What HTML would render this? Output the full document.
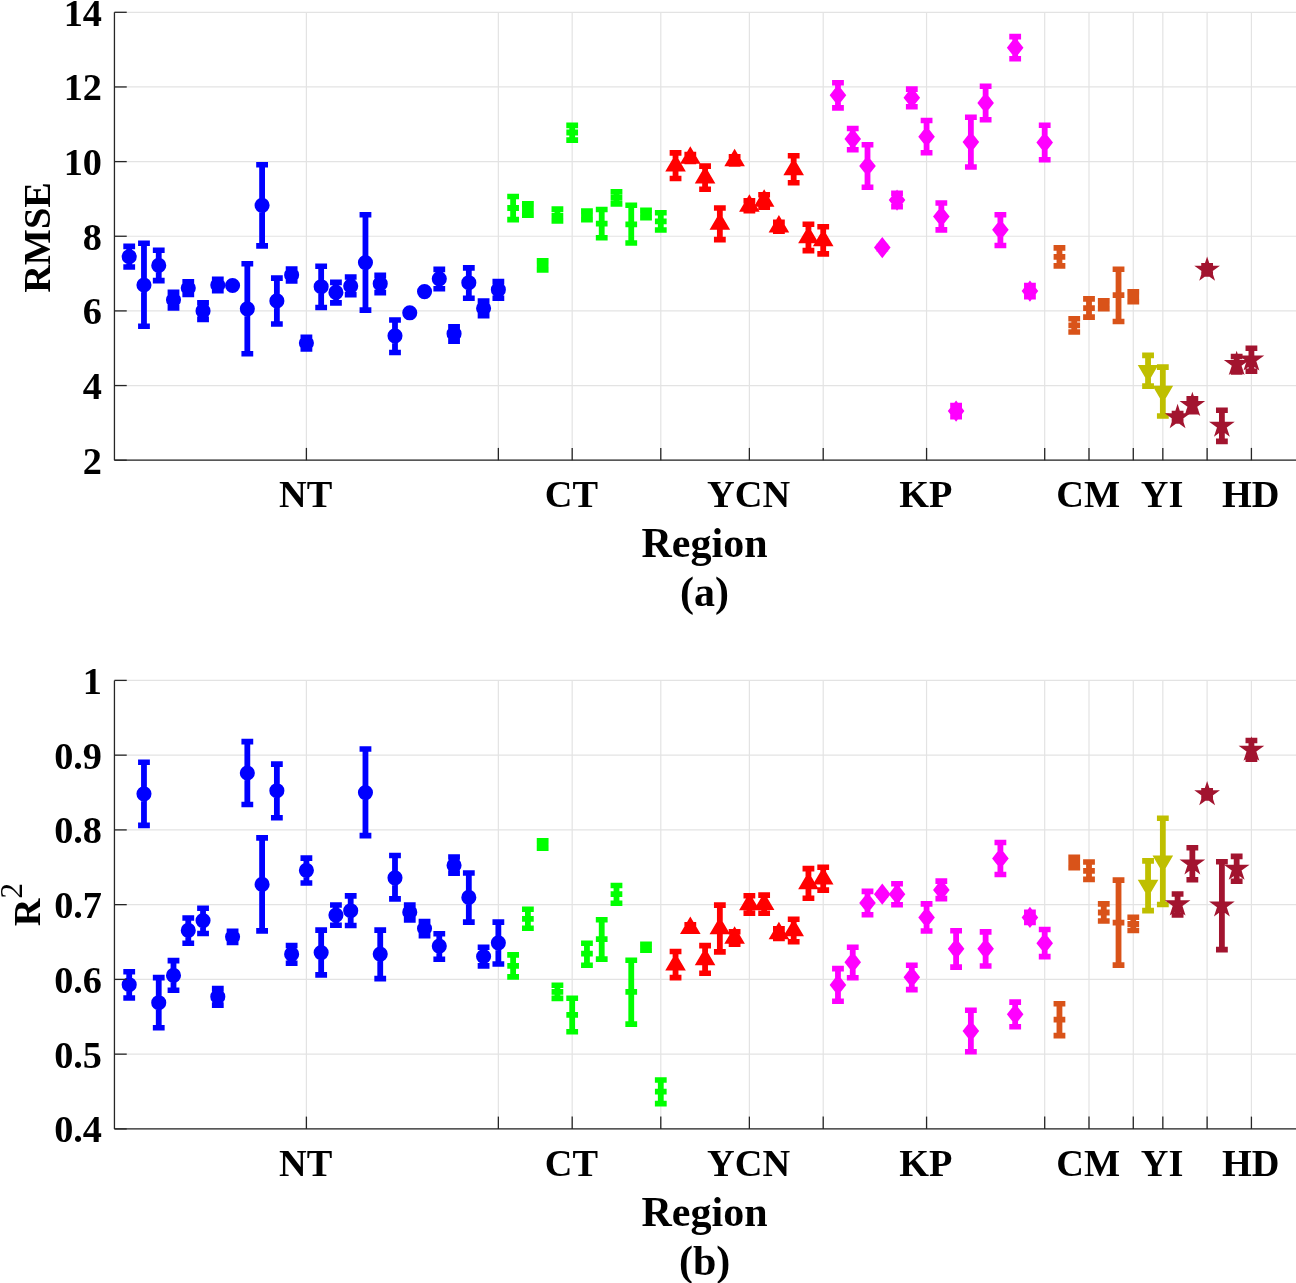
<!DOCTYPE html>
<html><head><meta charset="utf-8"><title>RMSE and R2 by Region</title>
<style>html,body{margin:0;padding:0;background:#fff;overflow:hidden}svg{display:block;will-change:transform}</style>
</head><body>
<svg width="1296" height="1283" viewBox="0 0 1296 1283">
<rect width="1296" height="1283" fill="#fff"/>
<g stroke="#e3e3e3" stroke-width="1.2" fill="none"><line x1="114.44" y1="12.3" x2="1296" y2="12.3"/><line x1="114.44" y1="86.95" x2="1296" y2="86.95"/><line x1="114.44" y1="161.6" x2="1296" y2="161.6"/><line x1="114.44" y1="236.25" x2="1296" y2="236.25"/><line x1="114.44" y1="310.9" x2="1296" y2="310.9"/><line x1="114.44" y1="385.55" x2="1296" y2="385.55"/><line x1="114.44" y1="460.2" x2="1296" y2="460.2"/><line x1="306.4" y1="12.3" x2="306.4" y2="460.2"/><line x1="498.36" y1="12.3" x2="498.36" y2="460.2"/><line x1="572.19" y1="12.3" x2="572.19" y2="460.2"/><line x1="660.78" y1="12.3" x2="660.78" y2="460.2"/><line x1="749.38" y1="12.3" x2="749.38" y2="460.2"/><line x1="823.21" y1="12.3" x2="823.21" y2="460.2"/><line x1="926.57" y1="12.3" x2="926.57" y2="460.2"/><line x1="1044.7" y1="12.3" x2="1044.7" y2="460.2"/><line x1="1089" y1="12.3" x2="1089" y2="460.2"/><line x1="1133.29" y1="12.3" x2="1133.29" y2="460.2"/><line x1="1162.83" y1="12.3" x2="1162.83" y2="460.2"/><line x1="1207.12" y1="12.3" x2="1207.12" y2="460.2"/><line x1="1251.42" y1="12.3" x2="1251.42" y2="460.2"/></g>
<g stroke="#e3e3e3" stroke-width="1.2" fill="none"><line x1="114.44" y1="680.4" x2="1296" y2="680.4"/><line x1="114.44" y1="755.15" x2="1296" y2="755.15"/><line x1="114.44" y1="829.9" x2="1296" y2="829.9"/><line x1="114.44" y1="904.65" x2="1296" y2="904.65"/><line x1="114.44" y1="979.4" x2="1296" y2="979.4"/><line x1="114.44" y1="1054.15" x2="1296" y2="1054.15"/><line x1="114.44" y1="1128.9" x2="1296" y2="1128.9"/><line x1="306.4" y1="680.4" x2="306.4" y2="1128.9"/><line x1="498.36" y1="680.4" x2="498.36" y2="1128.9"/><line x1="572.19" y1="680.4" x2="572.19" y2="1128.9"/><line x1="660.78" y1="680.4" x2="660.78" y2="1128.9"/><line x1="749.38" y1="680.4" x2="749.38" y2="1128.9"/><line x1="823.21" y1="680.4" x2="823.21" y2="1128.9"/><line x1="926.57" y1="680.4" x2="926.57" y2="1128.9"/><line x1="1044.7" y1="680.4" x2="1044.7" y2="1128.9"/><line x1="1089" y1="680.4" x2="1089" y2="1128.9"/><line x1="1133.29" y1="680.4" x2="1133.29" y2="1128.9"/><line x1="1162.83" y1="680.4" x2="1162.83" y2="1128.9"/><line x1="1207.12" y1="680.4" x2="1207.12" y2="1128.9"/><line x1="1251.42" y1="680.4" x2="1251.42" y2="1128.9"/></g>
<g fill="#0000ff"><path d="M126.31 246.4h5.8v20.6h-5.8zM123.31 243.6h11.8v5.6h-11.8zM123.31 264.2h11.8v5.6h-11.8zM121.66 256.7a7.55 7.55 0 1 1 15.1 0a7.55 7.55 0 1 1 -15.1 0z"/><path d="M141.07 243.3h5.8v83h-5.8zM138.07 240.5h11.8v5.6h-11.8zM138.07 323.5h11.8v5.6h-11.8zM136.42 285a7.55 7.55 0 1 1 15.1 0a7.55 7.55 0 1 1 -15.1 0z"/><path d="M155.84 250.3h5.8v30.3h-5.8zM152.84 247.5h11.8v5.6h-11.8zM152.84 277.8h11.8v5.6h-11.8zM151.19 265.4a7.55 7.55 0 1 1 15.1 0a7.55 7.55 0 1 1 -15.1 0z"/><path d="M170.6 292.4h5.8v15.5h-5.8zM167.6 289.6h11.8v5.6h-11.8zM167.6 305.1h11.8v5.6h-11.8zM165.95 299.8a7.55 7.55 0 1 1 15.1 0a7.55 7.55 0 1 1 -15.1 0z"/><path d="M185.37 281.8h5.8v12.7h-5.8zM182.37 279h11.8v5.6h-11.8zM182.37 291.7h11.8v5.6h-11.8zM180.72 288a7.55 7.55 0 1 1 15.1 0a7.55 7.55 0 1 1 -15.1 0z"/><path d="M200.14 302.7h5.8v16.7h-5.8zM197.14 299.9h11.8v5.6h-11.8zM197.14 316.6h11.8v5.6h-11.8zM195.49 310.9a7.55 7.55 0 1 1 15.1 0a7.55 7.55 0 1 1 -15.1 0z"/><path d="M214.9 279.3h5.8v11.5h-5.8zM211.9 276.5h11.8v5.6h-11.8zM211.9 288h11.8v5.6h-11.8zM210.25 285a7.55 7.55 0 1 1 15.1 0a7.55 7.55 0 1 1 -15.1 0z"/><path d="M229.67 284.5h5.8v2h-5.8zM226.67 281.7h11.8v5.6h-11.8zM226.67 283.7h11.8v5.6h-11.8zM225.02 285.5a7.55 7.55 0 1 1 15.1 0a7.55 7.55 0 1 1 -15.1 0z"/><path d="M244.43 263.7h5.8v90.1h-5.8zM241.43 260.9h11.8v5.6h-11.8zM241.43 351h11.8v5.6h-11.8zM239.78 308.8a7.55 7.55 0 1 1 15.1 0a7.55 7.55 0 1 1 -15.1 0z"/><path d="M259.2 164.7h5.8v81.2h-5.8zM256.2 161.9h11.8v5.6h-11.8zM256.2 243.1h11.8v5.6h-11.8zM254.55 205.3a7.55 7.55 0 1 1 15.1 0a7.55 7.55 0 1 1 -15.1 0z"/><path d="M273.97 278.1h5.8v45.9h-5.8zM270.97 275.3h11.8v5.6h-11.8zM270.97 321.2h11.8v5.6h-11.8zM269.32 300.9a7.55 7.55 0 1 1 15.1 0a7.55 7.55 0 1 1 -15.1 0z"/><path d="M288.73 269h5.8v11.9h-5.8zM285.73 266.2h11.8v5.6h-11.8zM285.73 278.1h11.8v5.6h-11.8zM284.08 274.9a7.55 7.55 0 1 1 15.1 0a7.55 7.55 0 1 1 -15.1 0z"/><path d="M303.5 337.4h5.8v11.5h-5.8zM300.5 334.6h11.8v5.6h-11.8zM300.5 346.1h11.8v5.6h-11.8zM298.85 343.1a7.55 7.55 0 1 1 15.1 0a7.55 7.55 0 1 1 -15.1 0z"/><path d="M318.26 266.2h5.8v41.3h-5.8zM315.26 263.4h11.8v5.6h-11.8zM315.26 304.7h11.8v5.6h-11.8zM313.61 286.7a7.55 7.55 0 1 1 15.1 0a7.55 7.55 0 1 1 -15.1 0z"/><path d="M333.03 282.4h5.8v20.5h-5.8zM330.03 279.6h11.8v5.6h-11.8zM330.03 300.1h11.8v5.6h-11.8zM328.38 292.4a7.55 7.55 0 1 1 15.1 0a7.55 7.55 0 1 1 -15.1 0z"/><path d="M347.8 277h5.8v17.8h-5.8zM344.8 274.2h11.8v5.6h-11.8zM344.8 292h11.8v5.6h-11.8zM343.15 286.1a7.55 7.55 0 1 1 15.1 0a7.55 7.55 0 1 1 -15.1 0z"/><path d="M362.56 214.8h5.8v95.3h-5.8zM359.56 212h11.8v5.6h-11.8zM359.56 307.3h11.8v5.6h-11.8zM357.91 262.6a7.55 7.55 0 1 1 15.1 0a7.55 7.55 0 1 1 -15.1 0z"/><path d="M377.33 275.4h5.8v17.2h-5.8zM374.33 272.6h11.8v5.6h-11.8zM374.33 289.8h11.8v5.6h-11.8zM372.68 283.7a7.55 7.55 0 1 1 15.1 0a7.55 7.55 0 1 1 -15.1 0z"/><path d="M392.09 320h5.8v32.5h-5.8zM389.09 317.2h11.8v5.6h-11.8zM389.09 349.7h11.8v5.6h-11.8zM387.44 335.8a7.55 7.55 0 1 1 15.1 0a7.55 7.55 0 1 1 -15.1 0z"/><path d="M406.86 311.8h5.8v2h-5.8zM403.86 309h11.8v5.6h-11.8zM403.86 311h11.8v5.6h-11.8zM402.21 312.8a7.55 7.55 0 1 1 15.1 0a7.55 7.55 0 1 1 -15.1 0z"/><path d="M421.63 290.6h5.8v2h-5.8zM418.63 287.8h11.8v5.6h-11.8zM418.63 289.8h11.8v5.6h-11.8zM416.98 291.6a7.55 7.55 0 1 1 15.1 0a7.55 7.55 0 1 1 -15.1 0z"/><path d="M436.39 269.4h5.8v19.4h-5.8zM433.39 266.6h11.8v5.6h-11.8zM433.39 286h11.8v5.6h-11.8zM431.74 278.8a7.55 7.55 0 1 1 15.1 0a7.55 7.55 0 1 1 -15.1 0z"/><path d="M451.16 326.9h5.8v14.3h-5.8zM448.16 324.1h11.8v5.6h-11.8zM448.16 338.4h11.8v5.6h-11.8zM446.51 333.7a7.55 7.55 0 1 1 15.1 0a7.55 7.55 0 1 1 -15.1 0z"/><path d="M465.92 267.9h5.8v30.3h-5.8zM462.92 265.1h11.8v5.6h-11.8zM462.92 295.4h11.8v5.6h-11.8zM461.27 282.7a7.55 7.55 0 1 1 15.1 0a7.55 7.55 0 1 1 -15.1 0z"/><path d="M480.69 301h5.8v14.6h-5.8zM477.69 298.2h11.8v5.6h-11.8zM477.69 312.8h11.8v5.6h-11.8zM476.04 308.3a7.55 7.55 0 1 1 15.1 0a7.55 7.55 0 1 1 -15.1 0z"/><path d="M495.46 281.6h5.8v16.6h-5.8zM492.46 278.8h11.8v5.6h-11.8zM492.46 295.4h11.8v5.6h-11.8zM490.81 289.7a7.55 7.55 0 1 1 15.1 0a7.55 7.55 0 1 1 -15.1 0z"/></g>
<g fill="#00ff00"><path d="M510.22 196.55h5.8v23.05h-5.8zM507.22 193.75h11.8v5.6h-11.8zM507.22 216.8h11.8v5.6h-11.8zM507.27 205.1h11.7v5.8h-11.7z"/><path d="M524.99 203.9h5.8v11.2h-5.8zM521.99 201.1h11.8v5.6h-11.8zM521.99 212.3h11.8v5.6h-11.8zM522.04 206.6h11.7v5.8h-11.7z"/><path d="M539.75 260.9h5.8v9h-5.8zM536.75 258.1h11.8v5.6h-11.8zM536.75 267.1h11.8v5.6h-11.8zM536.8 262.5h11.7v5.8h-11.7z"/><path d="M554.52 209.1h5.8v11.8h-5.8zM551.52 206.3h11.8v5.6h-11.8zM551.52 218.1h11.8v5.6h-11.8zM551.57 212.7h11.7v5.8h-11.7z"/><path d="M569.29 125.4h5.8v14.7h-5.8zM566.29 122.6h11.8v5.6h-11.8zM566.29 137.3h11.8v5.6h-11.8zM566.34 129.6h11.7v5.8h-11.7z"/><path d="M584.05 211.1h5.8v8.7h-5.8zM581.05 208.3h11.8v5.6h-11.8zM581.05 217h11.8v5.6h-11.8zM581.1 212.6h11.7v5.8h-11.7z"/><path d="M598.82 209.5h5.8v28.2h-5.8zM595.82 206.7h11.8v5.6h-11.8zM595.82 234.9h11.8v5.6h-11.8zM595.87 220.7h11.7v5.8h-11.7z"/><path d="M613.58 191.9h5.8v12h-5.8zM610.58 189.1h11.8v5.6h-11.8zM610.58 201.1h11.8v5.6h-11.8zM610.63 195h11.7v5.8h-11.7z"/><path d="M628.35 205.2h5.8v37.8h-5.8zM625.35 202.4h11.8v5.6h-11.8zM625.35 240.2h11.8v5.6h-11.8zM625.4 221.4h11.7v5.8h-11.7z"/><path d="M643.12 210.2h5.8v7.6h-5.8zM640.12 207.4h11.8v5.6h-11.8zM640.12 215h11.8v5.6h-11.8zM640.17 211.1h11.7v5.8h-11.7z"/><path d="M657.88 212.8h5.8v17.2h-5.8zM654.88 210h11.8v5.6h-11.8zM654.88 227.2h11.8v5.6h-11.8zM654.93 218.4h11.7v5.8h-11.7z"/></g>
<g fill="#ff0000"><path d="M672.65 152.9h5.8v25.6h-5.8zM669.65 150.1h11.8v5.6h-11.8zM669.65 175.7h11.8v5.6h-11.8zM675.55 154.03L685.85 171.53L665.25 171.53z"/><path d="M687.41 154.5h5.8v7h-5.8zM684.41 151.7h11.8v5.6h-11.8zM684.41 158.7h11.8v5.6h-11.8zM690.31 146.33L700.61 163.83L680.01 163.83z"/><path d="M702.18 166.1h5.8v23.1h-5.8zM699.18 163.3h11.8v5.6h-11.8zM699.18 186.4h11.8v5.6h-11.8zM705.08 165.93L715.38 183.43L694.78 183.43z"/><path d="M716.95 208h5.8v31.6h-5.8zM713.95 205.2h11.8v5.6h-11.8zM713.95 236.8h11.8v5.6h-11.8zM719.85 212.13L730.15 229.63L709.55 229.63z"/><path d="M731.71 156.8h5.8v7.2h-5.8zM728.71 154h11.8v5.6h-11.8zM728.71 161.2h11.8v5.6h-11.8zM734.61 148.73L744.91 166.23L724.31 166.23z"/><path d="M746.48 200.8h5.8v10h-5.8zM743.48 198h11.8v5.6h-11.8zM743.48 208h11.8v5.6h-11.8zM749.38 194.13L759.68 211.63L739.08 211.63z"/><path d="M761.24 194.7h5.8v12.5h-5.8zM758.24 191.9h11.8v5.6h-11.8zM758.24 204.4h11.8v5.6h-11.8zM764.14 189.28L774.44 206.78L753.84 206.78z"/><path d="M776.01 222.2h5.8v9h-5.8zM773.01 219.4h11.8v5.6h-11.8zM773.01 228.4h11.8v5.6h-11.8zM778.91 215.03L789.21 232.53L768.61 232.53z"/><path d="M790.78 155.7h5.8v27.1h-5.8zM787.78 152.9h11.8v5.6h-11.8zM787.78 180h11.8v5.6h-11.8zM793.68 157.63L803.98 175.13L783.38 175.13z"/><path d="M805.54 224.3h5.8v26.3h-5.8zM802.54 221.5h11.8v5.6h-11.8zM802.54 247.8h11.8v5.6h-11.8zM808.44 225.73L818.74 243.23L798.14 243.23z"/><path d="M820.31 226.7h5.8v27.2h-5.8zM817.31 223.9h11.8v5.6h-11.8zM817.31 251.1h11.8v5.6h-11.8zM823.21 228.63L833.51 246.13L812.91 246.13z"/></g>
<g fill="#ff00ff"><path d="M835.07 82.7h5.8v25.2h-5.8zM832.07 79.9h11.8v5.6h-11.8zM832.07 105.1h11.8v5.6h-11.8zM837.97 84.6L846.27 95.2L837.97 105.8L829.67 95.2z"/><path d="M849.84 128.5h5.8v21.2h-5.8zM846.84 125.7h11.8v5.6h-11.8zM846.84 146.9h11.8v5.6h-11.8zM852.74 128.3L861.04 138.9L852.74 149.5L844.44 138.9z"/><path d="M864.61 144.7h5.8v42.5h-5.8zM861.61 141.9h11.8v5.6h-11.8zM861.61 184.4h11.8v5.6h-11.8zM867.51 155.4L875.81 166L867.51 176.6L859.21 166z"/><path d="M879.37 246.6h5.8v2h-5.8zM876.37 243.8h11.8v5.6h-11.8zM876.37 245.8h11.8v5.6h-11.8zM882.27 237L890.57 247.6L882.27 258.2L873.97 247.6z"/><path d="M894.14 193.3h5.8v13.4h-5.8zM891.14 190.5h11.8v5.6h-11.8zM891.14 203.9h11.8v5.6h-11.8zM897.04 189.5L905.34 200.1L897.04 210.7L888.74 200.1z"/><path d="M908.9 89.1h5.8v17.6h-5.8zM905.9 86.3h11.8v5.6h-11.8zM905.9 103.9h11.8v5.6h-11.8zM911.8 87.1L920.1 97.7L911.8 108.3L903.5 97.7z"/><path d="M923.67 120.5h5.8v32.3h-5.8zM920.67 117.7h11.8v5.6h-11.8zM920.67 150h11.8v5.6h-11.8zM926.57 126.1L934.87 136.7L926.57 147.3L918.27 136.7z"/><path d="M938.44 203h5.8v26.9h-5.8zM935.44 200.2h11.8v5.6h-11.8zM935.44 227.1h11.8v5.6h-11.8zM941.34 205.9L949.64 216.5L941.34 227.1L933.04 216.5z"/><path d="M953.2 405.6h5.8v11h-5.8zM950.2 402.8h11.8v5.6h-11.8zM950.2 413.8h11.8v5.6h-11.8zM956.1 400.5L964.4 411.1L956.1 421.7L947.8 411.1z"/><path d="M967.97 117.3h5.8v49.7h-5.8zM964.97 114.5h11.8v5.6h-11.8zM964.97 164.2h11.8v5.6h-11.8zM970.87 131.5L979.17 142.1L970.87 152.7L962.57 142.1z"/><path d="M982.73 86.3h5.8v33.4h-5.8zM979.73 83.5h11.8v5.6h-11.8zM979.73 116.9h11.8v5.6h-11.8zM985.63 92.3L993.93 102.9L985.63 113.5L977.33 102.9z"/><path d="M997.5 214.8h5.8v30.7h-5.8zM994.5 212h11.8v5.6h-11.8zM994.5 242.7h11.8v5.6h-11.8zM1000.4 219.2L1008.7 229.8L1000.4 240.4L992.1 229.8z"/><path d="M1012.27 36.6h5.8v22.2h-5.8zM1009.27 33.8h11.8v5.6h-11.8zM1009.27 56h11.8v5.6h-11.8zM1015.17 37.1L1023.47 47.7L1015.17 58.3L1006.87 47.7z"/><path d="M1027.03 285.6h5.8v11h-5.8zM1024.03 282.8h11.8v5.6h-11.8zM1024.03 293.8h11.8v5.6h-11.8zM1029.93 280.5L1038.23 291.1L1029.93 301.7L1021.63 291.1z"/><path d="M1041.8 125.3h5.8v34.5h-5.8zM1038.8 122.5h11.8v5.6h-11.8zM1038.8 157h11.8v5.6h-11.8zM1044.7 132L1053 142.6L1044.7 153.2L1036.4 142.6z"/></g>
<g fill="#d95319"><path d="M1056.56 247.9h5.8v18h-5.8zM1053.56 245.1h11.8v5.6h-11.8zM1053.56 263.1h11.8v5.6h-11.8zM1053.61 253.9h11.7v5.8h-11.7z"/><path d="M1071.33 318.8h5.8v13.2h-5.8zM1068.33 316h11.8v5.6h-11.8zM1068.33 329.2h11.8v5.6h-11.8zM1068.38 322.5h11.7v5.8h-11.7z"/><path d="M1086.1 298.9h5.8v18.2h-5.8zM1083.1 296.1h11.8v5.6h-11.8zM1083.1 314.3h11.8v5.6h-11.8zM1083.15 305.15h11.7v5.8h-11.7z"/><path d="M1100.86 300.8h5.8v8h-5.8zM1097.86 298h11.8v5.6h-11.8zM1097.86 306h11.8v5.6h-11.8zM1097.91 301.9h11.7v5.8h-11.7z"/><path d="M1115.63 269.3h5.8v52.2h-5.8zM1112.63 266.5h11.8v5.6h-11.8zM1112.63 318.7h11.8v5.6h-11.8zM1112.68 292.3h11.7v5.8h-11.7z"/><path d="M1130.39 291.7h5.8v10h-5.8zM1127.39 288.9h11.8v5.6h-11.8zM1127.39 298.9h11.8v5.6h-11.8zM1127.44 293.8h11.7v5.8h-11.7z"/></g>
<g fill="#bfbf00"><path d="M1145.16 355.4h5.8v30.7h-5.8zM1142.16 352.6h11.8v5.6h-11.8zM1142.16 383.3h11.8v5.6h-11.8zM1148.06 382.47L1137.76 364.97L1158.36 364.97z"/><path d="M1159.93 367.1h5.8v48.9h-5.8zM1156.93 364.3h11.8v5.6h-11.8zM1156.93 413.2h11.8v5.6h-11.8zM1162.83 403.27L1152.53 385.77L1173.13 385.77z"/></g>
<g fill="#a2142f"><path d="M1174.69 413.6h5.8v7.4h-5.8zM1171.69 410.8h11.8v5.6h-11.8zM1171.69 418.2h11.8v5.6h-11.8zM1177.59 403.8L1180.62 413.13L1190.43 413.13L1182.5 418.89L1185.53 428.22L1177.59 422.46L1169.66 428.22L1172.69 418.89L1164.75 413.13L1174.56 413.13z"/><path d="M1189.46 398.8h5.8v13h-5.8zM1186.46 396h11.8v5.6h-11.8zM1186.46 409h11.8v5.6h-11.8zM1192.36 391.7L1195.39 401.03L1205.2 401.03L1197.26 406.79L1200.29 416.12L1192.36 410.36L1184.42 416.12L1187.45 406.79L1179.52 401.03L1189.33 401.03z"/><path d="M1204.22 265.8h5.8v8.2h-5.8zM1201.22 263h11.8v5.6h-11.8zM1201.22 271.2h11.8v5.6h-11.8zM1207.12 256.4L1210.16 265.73L1219.96 265.73L1212.03 271.49L1215.06 280.82L1207.12 275.06L1199.19 280.82L1202.22 271.49L1194.28 265.73L1204.09 265.73z"/><path d="M1218.99 410.2h5.8v31.2h-5.8zM1215.99 407.4h11.8v5.6h-11.8zM1215.99 438.6h11.8v5.6h-11.8zM1221.89 412.3L1224.92 421.63L1234.73 421.63L1226.79 427.39L1229.83 436.72L1221.89 430.96L1213.95 436.72L1216.99 427.39L1209.05 421.63L1218.86 421.63z"/><path d="M1233.76 356.5h5.8v15.4h-5.8zM1230.76 353.7h11.8v5.6h-11.8zM1230.76 369.1h11.8v5.6h-11.8zM1236.66 350.7L1239.69 360.03L1249.5 360.03L1241.56 365.79L1244.59 375.12L1236.66 369.36L1228.72 375.12L1231.75 365.79L1223.82 360.03L1233.62 360.03z"/><path d="M1248.52 348.2h5.8v23.1h-5.8zM1245.52 345.4h11.8v5.6h-11.8zM1245.52 368.5h11.8v5.6h-11.8zM1251.42 346.2L1254.45 355.53L1264.26 355.53L1256.33 361.29L1259.36 370.62L1251.42 364.86L1243.49 370.62L1246.52 361.29L1238.58 355.53L1248.39 355.53z"/></g>
<g fill="#0000ff"><path d="M126.31 971.7h5.8v26.3h-5.8zM123.31 968.9h11.8v5.6h-11.8zM123.31 995.2h11.8v5.6h-11.8zM121.66 984.7a7.55 7.55 0 1 1 15.1 0a7.55 7.55 0 1 1 -15.1 0z"/><path d="M141.07 762.3h5.8v63.1h-5.8zM138.07 759.5h11.8v5.6h-11.8zM138.07 822.6h11.8v5.6h-11.8zM136.42 793.8a7.55 7.55 0 1 1 15.1 0a7.55 7.55 0 1 1 -15.1 0z"/><path d="M155.84 977.6h5.8v50.1h-5.8zM152.84 974.8h11.8v5.6h-11.8zM152.84 1024.9h11.8v5.6h-11.8zM151.19 1002.7a7.55 7.55 0 1 1 15.1 0a7.55 7.55 0 1 1 -15.1 0z"/><path d="M170.6 960.6h5.8v29.7h-5.8zM167.6 957.8h11.8v5.6h-11.8zM167.6 987.5h11.8v5.6h-11.8zM165.95 975.4a7.55 7.55 0 1 1 15.1 0a7.55 7.55 0 1 1 -15.1 0z"/><path d="M185.37 918h5.8v25.3h-5.8zM182.37 915.2h11.8v5.6h-11.8zM182.37 940.5h11.8v5.6h-11.8zM180.72 930.4a7.55 7.55 0 1 1 15.1 0a7.55 7.55 0 1 1 -15.1 0z"/><path d="M200.14 908.2h5.8v25.3h-5.8zM197.14 905.4h11.8v5.6h-11.8zM197.14 930.7h11.8v5.6h-11.8zM195.49 920.6a7.55 7.55 0 1 1 15.1 0a7.55 7.55 0 1 1 -15.1 0z"/><path d="M214.9 988.6h5.8v16.5h-5.8zM211.9 985.8h11.8v5.6h-11.8zM211.9 1002.3h11.8v5.6h-11.8zM210.25 996.7a7.55 7.55 0 1 1 15.1 0a7.55 7.55 0 1 1 -15.1 0z"/><path d="M229.67 931.3h5.8v11.1h-5.8zM226.67 928.5h11.8v5.6h-11.8zM226.67 939.6h11.8v5.6h-11.8zM225.02 936.8a7.55 7.55 0 1 1 15.1 0a7.55 7.55 0 1 1 -15.1 0z"/><path d="M244.43 741.6h5.8v62.9h-5.8zM241.43 738.8h11.8v5.6h-11.8zM241.43 801.7h11.8v5.6h-11.8zM239.78 773a7.55 7.55 0 1 1 15.1 0a7.55 7.55 0 1 1 -15.1 0z"/><path d="M259.2 837.9h5.8v93h-5.8zM256.2 835.1h11.8v5.6h-11.8zM256.2 928.1h11.8v5.6h-11.8zM254.55 884.4a7.55 7.55 0 1 1 15.1 0a7.55 7.55 0 1 1 -15.1 0z"/><path d="M273.97 764.1h5.8v53.7h-5.8zM270.97 761.3h11.8v5.6h-11.8zM270.97 815h11.8v5.6h-11.8zM269.32 790.7a7.55 7.55 0 1 1 15.1 0a7.55 7.55 0 1 1 -15.1 0z"/><path d="M288.73 945.5h5.8v17.7h-5.8zM285.73 942.7h11.8v5.6h-11.8zM285.73 960.4h11.8v5.6h-11.8zM284.08 954.2a7.55 7.55 0 1 1 15.1 0a7.55 7.55 0 1 1 -15.1 0z"/><path d="M303.5 858.1h5.8v24.9h-5.8zM300.5 855.3h11.8v5.6h-11.8zM300.5 880.2h11.8v5.6h-11.8zM298.85 870.3a7.55 7.55 0 1 1 15.1 0a7.55 7.55 0 1 1 -15.1 0z"/><path d="M318.26 930.1h5.8v44.8h-5.8zM315.26 927.3h11.8v5.6h-11.8zM315.26 972.1h11.8v5.6h-11.8zM313.61 952.6a7.55 7.55 0 1 1 15.1 0a7.55 7.55 0 1 1 -15.1 0z"/><path d="M333.03 905h5.8v20.3h-5.8zM330.03 902.2h11.8v5.6h-11.8zM330.03 922.5h11.8v5.6h-11.8zM328.38 915.1a7.55 7.55 0 1 1 15.1 0a7.55 7.55 0 1 1 -15.1 0z"/><path d="M347.8 895.9h5.8v29.6h-5.8zM344.8 893.1h11.8v5.6h-11.8zM344.8 922.7h11.8v5.6h-11.8zM343.15 910.7a7.55 7.55 0 1 1 15.1 0a7.55 7.55 0 1 1 -15.1 0z"/><path d="M362.56 749h5.8v86.6h-5.8zM359.56 746.2h11.8v5.6h-11.8zM359.56 832.8h11.8v5.6h-11.8zM357.91 792.6a7.55 7.55 0 1 1 15.1 0a7.55 7.55 0 1 1 -15.1 0z"/><path d="M377.33 930.1h5.8v48.5h-5.8zM374.33 927.3h11.8v5.6h-11.8zM374.33 975.8h11.8v5.6h-11.8zM372.68 954.1a7.55 7.55 0 1 1 15.1 0a7.55 7.55 0 1 1 -15.1 0z"/><path d="M392.09 855.5h5.8v43.4h-5.8zM389.09 852.7h11.8v5.6h-11.8zM389.09 896.1h11.8v5.6h-11.8zM387.44 877.8a7.55 7.55 0 1 1 15.1 0a7.55 7.55 0 1 1 -15.1 0z"/><path d="M406.86 905h5.8v14.9h-5.8zM403.86 902.2h11.8v5.6h-11.8zM403.86 917.1h11.8v5.6h-11.8zM402.21 912.2a7.55 7.55 0 1 1 15.1 0a7.55 7.55 0 1 1 -15.1 0z"/><path d="M421.63 921.6h5.8v14.2h-5.8zM418.63 918.8h11.8v5.6h-11.8zM418.63 933h11.8v5.6h-11.8zM416.98 928.6a7.55 7.55 0 1 1 15.1 0a7.55 7.55 0 1 1 -15.1 0z"/><path d="M436.39 933.8h5.8v25.4h-5.8zM433.39 931h11.8v5.6h-11.8zM433.39 956.4h11.8v5.6h-11.8zM431.74 946.1a7.55 7.55 0 1 1 15.1 0a7.55 7.55 0 1 1 -15.1 0z"/><path d="M451.16 857h5.8v16.2h-5.8zM448.16 854.2h11.8v5.6h-11.8zM448.16 870.4h11.8v5.6h-11.8zM446.51 865.3a7.55 7.55 0 1 1 15.1 0a7.55 7.55 0 1 1 -15.1 0z"/><path d="M465.92 873h5.8v49.1h-5.8zM462.92 870.2h11.8v5.6h-11.8zM462.92 919.3h11.8v5.6h-11.8zM461.27 897.4a7.55 7.55 0 1 1 15.1 0a7.55 7.55 0 1 1 -15.1 0z"/><path d="M480.69 947.2h5.8v18.7h-5.8zM477.69 944.4h11.8v5.6h-11.8zM477.69 963.1h11.8v5.6h-11.8zM476.04 956.5a7.55 7.55 0 1 1 15.1 0a7.55 7.55 0 1 1 -15.1 0z"/><path d="M495.46 922.1h5.8v41.9h-5.8zM492.46 919.3h11.8v5.6h-11.8zM492.46 961.2h11.8v5.6h-11.8zM490.81 942.8a7.55 7.55 0 1 1 15.1 0a7.55 7.55 0 1 1 -15.1 0z"/></g>
<g fill="#00ff00"><path d="M510.22 954.9h5.8v22h-5.8zM507.22 952.1h11.8v5.6h-11.8zM507.22 974.1h11.8v5.6h-11.8zM507.27 963h11.7v5.8h-11.7z"/><path d="M524.99 909.3h5.8v19h-5.8zM521.99 906.5h11.8v5.6h-11.8zM521.99 925.5h11.8v5.6h-11.8zM522.04 915.9h11.7v5.8h-11.7z"/><path d="M539.75 840.9h5.8v7.2h-5.8zM536.75 838.1h11.8v5.6h-11.8zM536.75 845.3h11.8v5.6h-11.8zM536.8 841.6h11.7v5.8h-11.7z"/><path d="M554.52 985.3h5.8v13.1h-5.8zM551.52 982.5h11.8v5.6h-11.8zM551.52 995.6h11.8v5.6h-11.8zM551.57 989h11.7v5.8h-11.7z"/><path d="M569.29 998.2h5.8v33.6h-5.8zM566.29 995.4h11.8v5.6h-11.8zM566.29 1029h11.8v5.6h-11.8zM566.34 1011.9h11.7v5.8h-11.7z"/><path d="M584.05 943.2h5.8v22h-5.8zM581.05 940.4h11.8v5.6h-11.8zM581.05 962.4h11.8v5.6h-11.8zM581.1 950.8h11.7v5.8h-11.7z"/><path d="M598.82 919.8h5.8v39.3h-5.8zM595.82 917h11.8v5.6h-11.8zM595.82 956.3h11.8v5.6h-11.8zM595.87 936.3h11.7v5.8h-11.7z"/><path d="M613.58 885.5h5.8v17.7h-5.8zM610.58 882.7h11.8v5.6h-11.8zM610.58 900.4h11.8v5.6h-11.8zM610.63 891.2h11.7v5.8h-11.7z"/><path d="M628.35 960.3h5.8v63.8h-5.8zM625.35 957.5h11.8v5.6h-11.8zM625.35 1021.3h11.8v5.6h-11.8zM625.4 988.9h11.7v5.8h-11.7z"/><path d="M643.12 944.2h5.8v6h-5.8zM640.12 941.4h11.8v5.6h-11.8zM640.12 947.4h11.8v5.6h-11.8zM640.17 944.3h11.7v5.8h-11.7z"/><path d="M657.88 1080h5.8v23.6h-5.8zM654.88 1077.2h11.8v5.6h-11.8zM654.88 1100.8h11.8v5.6h-11.8zM654.93 1088.8h11.7v5.8h-11.7z"/></g>
<g fill="#ff0000"><path d="M672.65 951.5h5.8v26.1h-5.8zM669.65 948.7h11.8v5.6h-11.8zM669.65 974.8h11.8v5.6h-11.8zM675.55 952.93L685.85 970.43L665.25 970.43z"/><path d="M687.41 924.9h5.8v6.4h-5.8zM684.41 922.1h11.8v5.6h-11.8zM684.41 928.5h11.8v5.6h-11.8zM690.31 916.43L700.61 933.93L680.01 933.93z"/><path d="M702.18 945.6h5.8v27.6h-5.8zM699.18 942.8h11.8v5.6h-11.8zM699.18 970.4h11.8v5.6h-11.8zM705.08 947.73L715.38 965.23L694.78 965.23z"/><path d="M716.95 905.1h5.8v46.8h-5.8zM713.95 902.3h11.8v5.6h-11.8zM713.95 949.1h11.8v5.6h-11.8zM719.85 916.83L730.15 934.33L709.55 934.33z"/><path d="M731.71 931.7h5.8v12.5h-5.8zM728.71 928.9h11.8v5.6h-11.8zM728.71 941.4h11.8v5.6h-11.8zM734.61 926.23L744.91 943.73L724.31 943.73z"/><path d="M746.48 895.8h5.8v17.4h-5.8zM743.48 893h11.8v5.6h-11.8zM743.48 910.4h11.8v5.6h-11.8zM749.38 892.83L759.68 910.33L739.08 910.33z"/><path d="M761.24 895.1h5.8v18.1h-5.8zM758.24 892.3h11.8v5.6h-11.8zM758.24 910.4h11.8v5.6h-11.8zM764.14 892.53L774.44 910.03L753.84 910.03z"/><path d="M776.01 928.9h5.8v9.5h-5.8zM773.01 926.1h11.8v5.6h-11.8zM773.01 935.6h11.8v5.6h-11.8zM778.91 921.83L789.21 939.33L768.61 939.33z"/><path d="M790.78 919.3h5.8v22.4h-5.8zM787.78 916.5h11.8v5.6h-11.8zM787.78 938.9h11.8v5.6h-11.8zM793.68 918.83L803.98 936.33L783.38 936.33z"/><path d="M805.54 868.6h5.8v29.6h-5.8zM802.54 865.8h11.8v5.6h-11.8zM802.54 895.4h11.8v5.6h-11.8zM808.44 871.73L818.74 889.23L798.14 889.23z"/><path d="M820.31 867.2h5.8v22.9h-5.8zM817.31 864.4h11.8v5.6h-11.8zM817.31 887.3h11.8v5.6h-11.8zM823.21 867.03L833.51 884.53L812.91 884.53z"/></g>
<g fill="#ff00ff"><path d="M835.07 968.6h5.8v32.6h-5.8zM832.07 965.8h11.8v5.6h-11.8zM832.07 998.4h11.8v5.6h-11.8zM837.97 974.3L846.27 984.9L837.97 995.5L829.67 984.9z"/><path d="M849.84 947.3h5.8v30.5h-5.8zM846.84 944.5h11.8v5.6h-11.8zM846.84 975h11.8v5.6h-11.8zM852.74 951.6L861.04 962.2L852.74 972.8L844.44 962.2z"/><path d="M864.61 891.4h5.8v23.3h-5.8zM861.61 888.6h11.8v5.6h-11.8zM861.61 911.9h11.8v5.6h-11.8zM867.51 892.4L875.81 903L867.51 913.6L859.21 903z"/><path d="M879.37 893.2h5.8v2h-5.8zM876.37 890.4h11.8v5.6h-11.8zM876.37 892.4h11.8v5.6h-11.8zM882.27 883.6L890.57 894.2L882.27 904.8L873.97 894.2z"/><path d="M894.14 883.7h5.8v21.1h-5.8zM891.14 880.9h11.8v5.6h-11.8zM891.14 902h11.8v5.6h-11.8zM897.04 883.6L905.34 894.2L897.04 904.8L888.74 894.2z"/><path d="M908.9 965.2h5.8v24.4h-5.8zM905.9 962.4h11.8v5.6h-11.8zM905.9 986.8h11.8v5.6h-11.8zM911.8 966.6L920.1 977.2L911.8 987.8L903.5 977.2z"/><path d="M923.67 903.9h5.8v27.1h-5.8zM920.67 901.1h11.8v5.6h-11.8zM920.67 928.2h11.8v5.6h-11.8zM926.57 906.8L934.87 917.4L926.57 928L918.27 917.4z"/><path d="M938.44 881.1h5.8v17.5h-5.8zM935.44 878.3h11.8v5.6h-11.8zM935.44 895.8h11.8v5.6h-11.8zM941.34 879.3L949.64 889.9L941.34 900.5L933.04 889.9z"/><path d="M953.2 930.8h5.8v36.3h-5.8zM950.2 928h11.8v5.6h-11.8zM950.2 964.3h11.8v5.6h-11.8zM956.1 938.2L964.4 948.8L956.1 959.4L947.8 948.8z"/><path d="M967.97 1010.3h5.8v41.4h-5.8zM964.97 1007.5h11.8v5.6h-11.8zM964.97 1048.9h11.8v5.6h-11.8zM970.87 1020.5L979.17 1031.1L970.87 1041.7L962.57 1031.1z"/><path d="M982.73 931.9h5.8v34.1h-5.8zM979.73 929.1h11.8v5.6h-11.8zM979.73 963.2h11.8v5.6h-11.8zM985.63 938.2L993.93 948.8L985.63 959.4L977.33 948.8z"/><path d="M997.5 842.5h5.8v32h-5.8zM994.5 839.7h11.8v5.6h-11.8zM994.5 871.7h11.8v5.6h-11.8zM1000.4 847.8L1008.7 858.4L1000.4 869L992.1 858.4z"/><path d="M1012.27 1002.1h5.8v24.7h-5.8zM1009.27 999.3h11.8v5.6h-11.8zM1009.27 1024h11.8v5.6h-11.8zM1015.17 1003.7L1023.47 1014.3L1015.17 1024.9L1006.87 1014.3z"/><path d="M1027.03 912.4h5.8v10h-5.8zM1024.03 909.6h11.8v5.6h-11.8zM1024.03 919.6h11.8v5.6h-11.8zM1029.93 906.8L1038.23 917.4L1029.93 928L1021.63 917.4z"/><path d="M1041.8 929.5h5.8v27.1h-5.8zM1038.8 926.7h11.8v5.6h-11.8zM1038.8 953.8h11.8v5.6h-11.8zM1044.7 932.6L1053 943.2L1044.7 953.8L1036.4 943.2z"/></g>
<g fill="#d95319"><path d="M1056.56 1003.7h5.8v31.9h-5.8zM1053.56 1000.9h11.8v5.6h-11.8zM1053.56 1032.8h11.8v5.6h-11.8zM1053.61 1016.8h11.7v5.8h-11.7z"/><path d="M1071.33 857.2h5.8v10.6h-5.8zM1068.33 854.4h11.8v5.6h-11.8zM1068.33 865h11.8v5.6h-11.8zM1068.38 859.6h11.7v5.8h-11.7z"/><path d="M1086.1 862h5.8v17.4h-5.8zM1083.1 859.2h11.8v5.6h-11.8zM1083.1 876.6h11.8v5.6h-11.8zM1083.15 867.9h11.7v5.8h-11.7z"/><path d="M1100.86 903.9h5.8v17.1h-5.8zM1097.86 901.1h11.8v5.6h-11.8zM1097.86 918.2h11.8v5.6h-11.8zM1097.91 909.6h11.7v5.8h-11.7z"/><path d="M1115.63 880.1h5.8v85h-5.8zM1112.63 877.3h11.8v5.6h-11.8zM1112.63 962.3h11.8v5.6h-11.8zM1112.68 919.7h11.7v5.8h-11.7z"/><path d="M1130.39 917.3h5.8v13.2h-5.8zM1127.39 914.5h11.8v5.6h-11.8zM1127.39 927.7h11.8v5.6h-11.8zM1127.44 921.1h11.7v5.8h-11.7z"/></g>
<g fill="#bfbf00"><path d="M1145.16 860.9h5.8v49.7h-5.8zM1142.16 858.1h11.8v5.6h-11.8zM1142.16 907.8h11.8v5.6h-11.8zM1148.06 897.37L1137.76 879.87L1158.36 879.87z"/><path d="M1159.93 818.3h5.8v86.2h-5.8zM1156.93 815.5h11.8v5.6h-11.8zM1156.93 901.7h11.8v5.6h-11.8zM1162.83 873.07L1152.53 855.57L1173.13 855.57z"/></g>
<g fill="#a2142f"><path d="M1174.69 894h5.8v21h-5.8zM1171.69 891.2h11.8v5.6h-11.8zM1171.69 912.2h11.8v5.6h-11.8zM1177.59 891L1180.62 900.33L1190.43 900.33L1182.5 906.09L1185.53 915.42L1177.59 909.66L1169.66 915.42L1172.69 906.09L1164.75 900.33L1174.56 900.33z"/><path d="M1189.46 847.7h5.8v32h-5.8zM1186.46 844.9h11.8v5.6h-11.8zM1186.46 876.9h11.8v5.6h-11.8zM1192.36 850.2L1195.39 859.53L1205.2 859.53L1197.26 865.29L1200.29 874.62L1192.36 868.86L1184.42 874.62L1187.45 865.29L1179.52 859.53L1189.33 859.53z"/><path d="M1204.22 790.7h5.8v7.3h-5.8zM1201.22 787.9h11.8v5.6h-11.8zM1201.22 795.2h11.8v5.6h-11.8zM1207.12 780.9L1210.16 790.23L1219.96 790.23L1212.03 795.99L1215.06 805.32L1207.12 799.56L1199.19 805.32L1202.22 795.99L1194.28 790.23L1204.09 790.23z"/><path d="M1218.99 861.8h5.8v87.8h-5.8zM1215.99 859h11.8v5.6h-11.8zM1215.99 946.8h11.8v5.6h-11.8zM1221.89 892.2L1224.92 901.53L1234.73 901.53L1226.79 907.29L1229.83 916.62L1221.89 910.86L1213.95 916.62L1216.99 907.29L1209.05 901.53L1218.86 901.53z"/><path d="M1233.76 856.4h5.8v24.9h-5.8zM1230.76 853.6h11.8v5.6h-11.8zM1230.76 878.5h11.8v5.6h-11.8zM1236.66 855.4L1239.69 864.73L1249.5 864.73L1241.56 870.49L1244.59 879.82L1236.66 874.06L1228.72 879.82L1231.75 870.49L1223.82 864.73L1233.62 864.73z"/><path d="M1248.52 740.5h5.8v18.7h-5.8zM1245.52 737.7h11.8v5.6h-11.8zM1245.52 756.4h11.8v5.6h-11.8zM1251.42 736.3L1254.45 745.63L1264.26 745.63L1256.33 751.39L1259.36 760.72L1251.42 754.96L1243.49 760.72L1246.52 751.39L1238.58 745.63L1248.39 745.63z"/></g>
<g stroke="#262626" stroke-width="1.3" fill="none"><line x1="114.44" y1="12.3" x2="114.44" y2="460.2"/><line x1="114.44" y1="460.2" x2="1296" y2="460.2"/><line x1="114.44" y1="12.3" x2="126.74" y2="12.3"/><line x1="114.44" y1="86.95" x2="126.74" y2="86.95"/><line x1="114.44" y1="161.6" x2="126.74" y2="161.6"/><line x1="114.44" y1="236.25" x2="126.74" y2="236.25"/><line x1="114.44" y1="310.9" x2="126.74" y2="310.9"/><line x1="114.44" y1="385.55" x2="126.74" y2="385.55"/><line x1="114.44" y1="460.2" x2="126.74" y2="460.2"/><line x1="306.4" y1="460.2" x2="306.4" y2="447.9"/><line x1="498.36" y1="460.2" x2="498.36" y2="447.9"/><line x1="572.19" y1="460.2" x2="572.19" y2="447.9"/><line x1="660.78" y1="460.2" x2="660.78" y2="447.9"/><line x1="749.38" y1="460.2" x2="749.38" y2="447.9"/><line x1="823.21" y1="460.2" x2="823.21" y2="447.9"/><line x1="926.57" y1="460.2" x2="926.57" y2="447.9"/><line x1="1044.7" y1="460.2" x2="1044.7" y2="447.9"/><line x1="1089" y1="460.2" x2="1089" y2="447.9"/><line x1="1133.29" y1="460.2" x2="1133.29" y2="447.9"/><line x1="1162.83" y1="460.2" x2="1162.83" y2="447.9"/><line x1="1207.12" y1="460.2" x2="1207.12" y2="447.9"/><line x1="1251.42" y1="460.2" x2="1251.42" y2="447.9"/></g>
<g font-family="Liberation Serif" font-weight="bold" fill="#000"><text x="102" y="25.7" font-size="38.3" text-anchor="end">14</text><text x="102" y="100.35" font-size="38.3" text-anchor="end">12</text><text x="102" y="175" font-size="38.3" text-anchor="end">10</text><text x="102" y="249.65" font-size="38.3" text-anchor="end">8</text><text x="102" y="324.3" font-size="38.3" text-anchor="end">6</text><text x="102" y="398.95" font-size="38.3" text-anchor="end">4</text><text x="102" y="473.6" font-size="38.3" text-anchor="end">2</text><text x="305.6" y="507.1" font-size="38.3" text-anchor="middle">NT</text><text x="571.39" y="507.1" font-size="38.3" text-anchor="middle">CT</text><text x="748.58" y="507.1" font-size="38.3" text-anchor="middle">YCN</text><text x="925.77" y="507.1" font-size="38.3" text-anchor="middle">KP</text><text x="1088.2" y="507.1" font-size="38.3" text-anchor="middle">CM</text><text x="1162.03" y="507.1" font-size="38.3" text-anchor="middle">YI</text><text x="1250.62" y="507.1" font-size="38.3" text-anchor="middle">HD</text><text x="704.5" y="556.7" font-size="42" text-anchor="middle">Region</text><text x="704.6" y="606.1" font-size="42" text-anchor="middle">(a)</text></g>
<g stroke="#262626" stroke-width="1.3" fill="none"><line x1="114.44" y1="680.4" x2="114.44" y2="1128.9"/><line x1="114.44" y1="1128.9" x2="1296" y2="1128.9"/><line x1="114.44" y1="680.4" x2="126.74" y2="680.4"/><line x1="114.44" y1="755.15" x2="126.74" y2="755.15"/><line x1="114.44" y1="829.9" x2="126.74" y2="829.9"/><line x1="114.44" y1="904.65" x2="126.74" y2="904.65"/><line x1="114.44" y1="979.4" x2="126.74" y2="979.4"/><line x1="114.44" y1="1054.15" x2="126.74" y2="1054.15"/><line x1="114.44" y1="1128.9" x2="126.74" y2="1128.9"/><line x1="306.4" y1="1128.9" x2="306.4" y2="1116.6"/><line x1="498.36" y1="1128.9" x2="498.36" y2="1116.6"/><line x1="572.19" y1="1128.9" x2="572.19" y2="1116.6"/><line x1="660.78" y1="1128.9" x2="660.78" y2="1116.6"/><line x1="749.38" y1="1128.9" x2="749.38" y2="1116.6"/><line x1="823.21" y1="1128.9" x2="823.21" y2="1116.6"/><line x1="926.57" y1="1128.9" x2="926.57" y2="1116.6"/><line x1="1044.7" y1="1128.9" x2="1044.7" y2="1116.6"/><line x1="1089" y1="1128.9" x2="1089" y2="1116.6"/><line x1="1133.29" y1="1128.9" x2="1133.29" y2="1116.6"/><line x1="1162.83" y1="1128.9" x2="1162.83" y2="1116.6"/><line x1="1207.12" y1="1128.9" x2="1207.12" y2="1116.6"/><line x1="1251.42" y1="1128.9" x2="1251.42" y2="1116.6"/></g>
<g font-family="Liberation Serif" font-weight="bold" fill="#000"><text x="102" y="693.8" font-size="38.3" text-anchor="end">1</text><text x="102" y="768.55" font-size="38.3" text-anchor="end">0.9</text><text x="102" y="843.3" font-size="38.3" text-anchor="end">0.8</text><text x="102" y="918.05" font-size="38.3" text-anchor="end">0.7</text><text x="102" y="992.8" font-size="38.3" text-anchor="end">0.6</text><text x="102" y="1067.55" font-size="38.3" text-anchor="end">0.5</text><text x="102" y="1142.3" font-size="38.3" text-anchor="end">0.4</text><text x="305.6" y="1175.9" font-size="38.3" text-anchor="middle">NT</text><text x="571.39" y="1175.9" font-size="38.3" text-anchor="middle">CT</text><text x="748.58" y="1175.9" font-size="38.3" text-anchor="middle">YCN</text><text x="925.77" y="1175.9" font-size="38.3" text-anchor="middle">KP</text><text x="1088.2" y="1175.9" font-size="38.3" text-anchor="middle">CM</text><text x="1162.03" y="1175.9" font-size="38.3" text-anchor="middle">YI</text><text x="1250.62" y="1175.9" font-size="38.3" text-anchor="middle">HD</text><text x="704.5" y="1225.5" font-size="42" text-anchor="middle">Region</text><text x="704.6" y="1275" font-size="42" text-anchor="middle">(b)</text></g>
<text transform="translate(50.2,237.5) rotate(-90)" font-family="Liberation Serif" font-weight="bold" font-size="38.3" text-anchor="middle">RMSE</text>
<g transform="translate(40,912.5) rotate(-90)" font-family="Liberation Serif" font-weight="bold"><text x="0" y="0" font-size="38.3" text-anchor="middle">R</text><text x="14" y="-18.2" font-size="31" font-weight="normal">2</text></g>
</svg>
</body></html>
